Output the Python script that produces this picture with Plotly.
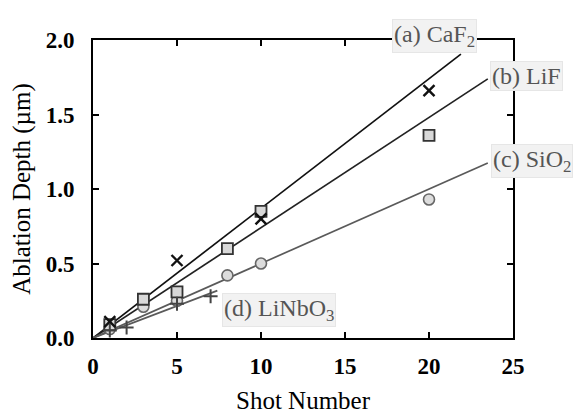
import plotly.graph_objects as go

# Measured ablation depth (um) versus number of laser shots
caf2_shots = [1, 5, 10, 20]
caf2_depth = [0.11, 0.52, 0.80, 1.66]

lif_shots = [1, 3, 5, 8, 10, 20]
lif_depth = [0.09, 0.26, 0.31, 0.60, 0.85, 1.36]

sio2_shots = [1, 3, 5, 8, 10, 20]
sio2_depth = [0.06, 0.21, 0.25, 0.42, 0.50, 0.93]

linbo3_shots = [1, 2, 5, 7]
linbo3_depth = [0.05, 0.07, 0.23, 0.28]

# Linear fits through the origin: (slope um/shot, last shot drawn)
fit_caf2 = (0.087, 21.9)
fit_lif = (0.074, 23.5)
fit_sio2 = (0.050, 23.5)
fit_linbo3 = (0.043, 7.4)

labels = ["(a) CaF<sub>2</sub>", "(b) LiF", "(c) SiO<sub>2</sub>", "(d) LiNbO<sub>3</sub>"]

SERIF = "Liberation Serif, Times New Roman, serif"

fig = go.Figure()

fits = [(fit_caf2, "#111111"), (fit_lif, "#222222"), (fit_sio2, "#5a5a5a"), (fit_linbo3, "#5a5a5a")]
for (slope, xend), col in fits:
    fig.add_trace(go.Scatter(x=[0, xend], y=[0, slope * xend], mode="lines",
                             line=dict(color=col, width=1.7), hoverinfo="skip"))

fig.add_trace(go.Scatter(x=sio2_shots, y=sio2_depth, mode="markers",
                         marker=dict(symbol="circle", size=11, color="#dcdcdc",
                                     line=dict(color="#666666", width=1.6))))
fig.add_trace(go.Scatter(x=lif_shots, y=lif_depth, mode="markers",
                         marker=dict(symbol="square", size=11, color="#d8d8d8",
                                     line=dict(color="#333333", width=1.8))))
fig.add_trace(go.Scatter(x=linbo3_shots, y=linbo3_depth, mode="markers",
                         marker=dict(symbol="cross-thin", size=10,
                                     line=dict(color="#444444", width=2))))
fig.add_trace(go.Scatter(x=caf2_shots, y=caf2_depth, mode="markers",
                         marker=dict(symbol="x-thin", size=11,
                                     line=dict(color="#111111", width=2.4))))

# Curve labels placed in paper coordinates so they may overhang the frame
label_pos = [(0.814, 1.013, "paper"), (1.031, 0.879, "paper"), (1.045, 0.594, "paper"),
             (11.07, 0.19, "data")]
for text, (lx, ly, ref) in zip(labels, label_pos):
    xr, yr = ("paper", "paper") if ref == "paper" else ("x", "y")
    fig.add_annotation(x=lx, y=ly, xref=xr, yref=yr, text=text, showarrow=False,
                       xanchor="center", yanchor="middle",
                       font=dict(family=SERIF, size=24, color="#555555"),
                       bgcolor="#f2f2f2", bordercolor="#e6e6e6", borderwidth=1,
                       borderpad=1)

axis_common = dict(showgrid=False, zeroline=False, showline=True, linecolor="black",
                   linewidth=2, mirror="ticks", ticks="inside", ticklen=6,
                   tickwidth=1.6, tickcolor="black", automargin=False,
                   tickfont=dict(family=SERIF, size=23, color="black", weight="bold"))

fig.update_xaxes(range=[0, 25], dtick=5, tickformat="d", ticklabelstandoff=6,
                 title=dict(text="Shot Number", font=dict(family=SERIF, size=25, color="black"),
                            standoff=14),
                 **axis_common)
fig.update_yaxes(range=[0, 2.0], dtick=0.5, tickformat=".1f", ticklabelstandoff=12,
                 title=dict(text="Ablation Depth (µm)", font=dict(family=SERIF, size=25, color="black"),
                            standoff=8),
                 **axis_common)

fig.update_layout(width=577, height=414, showlegend=False,
                  plot_bgcolor="white", paper_bgcolor="white",
                  margin=dict(l=93, r=64, t=40, b=76))

fig.write_html("out.html")
